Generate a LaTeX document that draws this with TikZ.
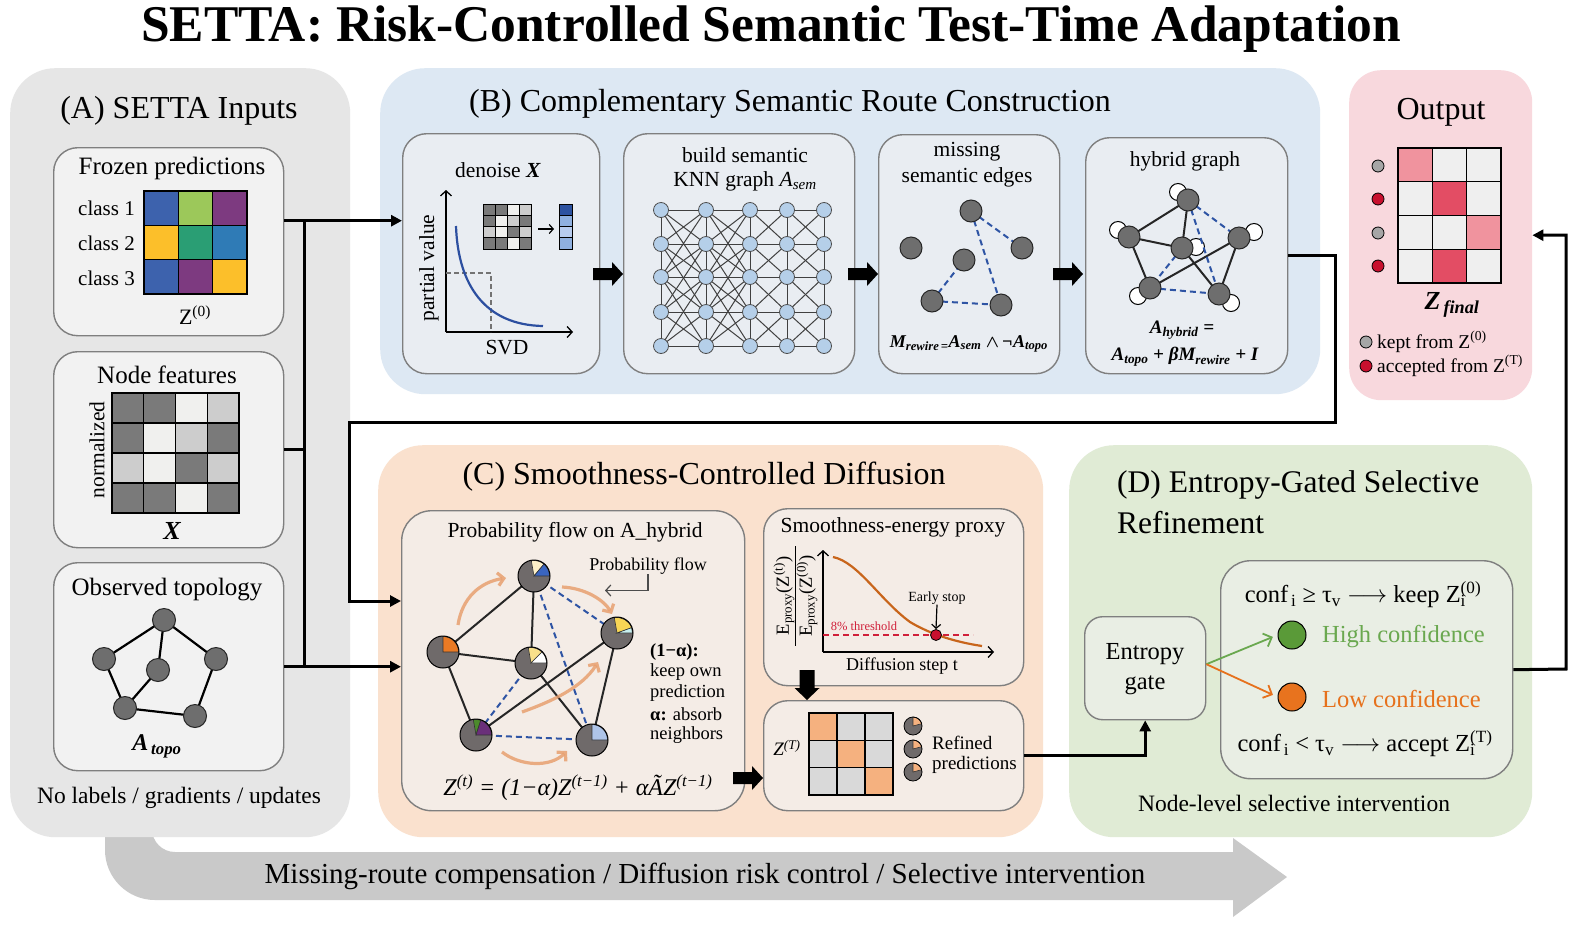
\documentclass[tikz,border=0pt]{standalone}
\usepackage{fontspec}
\setmainfont{Liberation Serif}
\usetikzlibrary{arrows.meta,calc}

\definecolor{panA}{HTML}{E6E6E6}
\definecolor{subA}{HTML}{F2F2F2}
\definecolor{panB}{HTML}{DDE8F3}
\definecolor{subB}{HTML}{E9EDF2}
\definecolor{panOut}{HTML}{F8D8DD}
\definecolor{panC}{HTML}{FAE1CE}
\definecolor{subC}{HTML}{F4ECE6}
\definecolor{panD}{HTML}{E0EBD5}
\definecolor{subD}{HTML}{E9EEE4}
\definecolor{bord}{HTML}{7F7F7F}
\definecolor{band}{HTML}{C9C9C9}
\definecolor{ngray}{HTML}{6E6E6E}
\definecolor{pgray}{HTML}{6F6A6A}
\definecolor{knnblue}{HTML}{B5CFE9}
\definecolor{dashblue}{HTML}{2E54A4}
\definecolor{curveblue}{HTML}{2C4FA0}
\definecolor{floworange}{HTML}{E8A070}
\definecolor{fzblue}{HTML}{3D62AD}
\definecolor{fzlgreen}{HTML}{9CC85A}
\definecolor{fzpurple}{HTML}{7D3A80}
\definecolor{fzamber}{HTML}{FCBF2A}
\definecolor{fzteal}{HTML}{2A9E74}
\definecolor{fzblue2}{HTML}{2F7BB6}
\definecolor{xd}{HTML}{7A7A7A}
\definecolor{xl}{HTML}{CDCDCD}
\definecolor{xw}{HTML}{F0F0EE}
\definecolor{v1}{HTML}{2D52A0}
\definecolor{v2}{HTML}{8FB0E0}
\definecolor{v3}{HTML}{B7CCEF}
\definecolor{ol}{HTML}{F0939E}
\definecolor{ow}{HTML}{EFEFEF}
\definecolor{ored}{HTML}{E34D64}
\definecolor{dotgray}{HTML}{A6A6A6}
\definecolor{dotred}{HTML}{C8102E}
\definecolor{rorange}{HTML}{F5B17F}
\definecolor{rgray}{HTML}{D9D9D9}
\definecolor{proxycurve}{HTML}{C8651B}
\definecolor{thred}{HTML}{D0203A}
\definecolor{hgreen}{HTML}{6AA84F}
\definecolor{cgreen}{HTML}{5A9A38}
\definecolor{lorange}{HTML}{E6711C}
\definecolor{corange}{HTML}{E8731E}
\definecolor{pcream}{HTML}{FDF0C8}
\definecolor{pblue}{HTML}{3A65C0}
\definecolor{porange}{HTML}{EA7A24}
\definecolor{plyellow}{HTML}{F9E08A}
\definecolor{pyellow}{HTML}{F7D555}
\definecolor{pcyan}{HTML}{C8F0F0}
\definecolor{pgreen}{HTML}{4C8A2C}
\definecolor{ppurple}{HTML}{6A2F7A}
\definecolor{plblue}{HTML}{AEC4E8}

\newcommand\fs[1]{\fontsize{#1}{#1}\selectfont}
\newcommand\larrow{\ensuremath{\longrightarrow}}
% x0,y0,w,h,ncols,colorlist,linewidth
\newcommand\cellmat[7]{%
  \foreach \cc [count=\k from 0] in {#6} {%
    \pgfmathtruncatemacro\rr{int(\k/#5)}%
    \pgfmathtruncatemacro\qq{mod(\k,#5)}%
    \filldraw[fill=\cc,draw=black,line width=#7] ({#1+\qq*#3},{#2+\rr*#4}) rectangle ++(#3,#4);
  }}
\newcommand\piewedge[5]{\fill[#4, draw=black!80, line width=0.6pt] (#1.center) -- ++(#2:#5) arc[start angle=#2, end angle=#3, radius=#5] -- cycle;}
\newcommand\blockR[2]{\fill[black] (#1,#2-6) -- (#1+19,#2-6) -- (#1+19,#2-12) -- (#1+30,#2) -- (#1+19,#2+12) -- (#1+19,#2+6) -- (#1,#2+6) -- cycle;}
\newcommand\blockD[2]{\fill[black] (#1-7.5,#2) -- (#1+7.5,#2) -- (#1+7.5,#2+18) -- (#1+12.5,#2+18) -- (#1,#2+30) -- (#1-12.5,#2+18) -- (#1-7.5,#2+18) -- cycle;}

\tikzset{
  panelbox/.style={anchor=north west, inner sep=0pt, rounded corners=45pt},
  subbox/.style={anchor=north west, inner sep=0pt, draw=bord, line width=1.4pt, rounded corners=24pt},
  conn/.style={line width=3pt, draw=black},
  connarrow/.style={conn, -{Triangle[length=11pt,width=11pt]}},
  lbl/.style={inner sep=0pt, text=black},
  gnode/.style={circle, inner sep=0pt, minimum size=22pt, fill=ngray, draw=black!85, line width=1pt},
  knnnode/.style={circle, inner sep=0pt, minimum size=15pt, fill=knnblue, draw=black!70, line width=0.8pt},
  loopnode/.style={circle, inner sep=0pt, minimum size=17pt, fill=white, draw=black, line width=1pt},
  pienode/.style={circle, inner sep=0pt, minimum size=32pt, fill=pgray},
  solidedge/.style={line width=2pt, draw=black!85},
  knnedge/.style={line width=1pt, draw=black!75},
  dashedge/.style={line width=2pt, draw=dashblue, dash pattern=on 6pt off 4pt},
  axisarrow/.style={line width=1.3pt, -{Straight Barb[length=5pt,width=11pt]}},
  flowarrow/.style={line width=3.2pt, draw=floworange, opacity=0.85, -{Straight Barb[length=6pt,width=13pt]}},
  dotnode/.style={circle, inner sep=0pt, minimum size=12pt, draw=black, line width=0.8pt},
}

\begin{document}
\begin{tikzpicture}[x=1pt,y=-1pt]
\useasboundingbox (0,0) rectangle (1577,927);
\fill[white] (0,0) rectangle (1577,927);

% ---------- bottom band arrow ----------
\fill[band] (105,780) -- (105,850) .. controls (105,877.6) and (127.4,900) .. (155,900) -- (1233,900) -- (1233,917) -- (1287,877) -- (1233,838) -- (1233,852) -- (175,852) .. controls (162.3,852) and (152,841.7) .. (152,829) -- (152,780) -- cycle;
\node[lbl, font=\fs{29}] (bandtext) at (705,876) {Missing-route compensation / Diffusion risk control / Selective intervention};

% ---------- title ----------
\node[lbl, font=\bfseries\fs{51.5}] (title) at (771,29) {SETTA: Risk-Controlled Semantic Test-Time Adaptation};

% ---------- panels ----------
\node[panelbox, fill=panA, minimum width=340pt, minimum height=769pt] (pA) at (10,68) {};
\node[panelbox, fill=panB, minimum width=940pt, minimum height=326pt] (pB) at (380,68) {};
\node[panelbox, fill=panOut, minimum width=183pt, minimum height=330pt, rounded corners=32pt] (pOut) at (1349,70) {};
\node[panelbox, fill=panC, minimum width=665pt, minimum height=392pt] (pC) at (378,445) {};
\node[panelbox, fill=panD, minimum width=463pt, minimum height=392pt] (pD) at (1069,445) {};

\node[lbl, font=\fs{32}] (tA) at (179,111) {(A) SETTA Inputs};
\node[lbl, font=\fs{32}] (tB) at (790,104) {(B) Complementary Semantic Route Construction};
\node[lbl, font=\fs{32}] (tOut) at (1441,112) {Output};
\node[lbl, font=\fs{32}] (tC) at (704,477) {(C) Smoothness-Controlled Diffusion};
\node[lbl, font=\fs{31.5}, anchor=west] (tD1) at (1117,485) {(D) Entropy-Gated Selective};
\node[lbl, font=\fs{31.5}, anchor=west] (tD2) at (1117,523) {Refinement};

% ---------- sub boxes ----------
\node[subbox, fill=subA, minimum width=230pt, minimum height=188pt] (fp) at (53,147) {};
\node[subbox, fill=subA, minimum width=230pt, minimum height=196pt] (nf) at (53,351) {};
\node[subbox, fill=subA, minimum width=230pt, minimum height=208pt] (topo) at (53,562) {};
\node[subbox, fill=subB, minimum width=197pt, minimum height=240pt] (denoise) at (402,133) {};
\node[subbox, fill=subB, minimum width=231pt, minimum height=240pt] (knn) at (623,133) {};
\node[subbox, fill=subB, minimum width=181pt, minimum height=239pt] (miss) at (878,134) {};
\node[subbox, fill=subB, minimum width=202pt, minimum height=236pt] (hyb) at (1085,137) {};
\node[subbox, fill=subC, minimum width=343pt, minimum height=300pt, rounded corners=30pt] (pflow) at (401,510) {};
\node[subbox, fill=subC, minimum width=260pt, minimum height=177pt] (proxy) at (763,508) {};
\node[subbox, fill=subC, minimum width=260pt, minimum height=110pt] (refined) at (763,700) {};
\node[subbox, fill=subD, minimum width=121pt, minimum height=103pt, rounded corners=18pt] (gate) at (1084,616) {};
\node[subbox, fill=subD, minimum width=292pt, minimum height=218pt, rounded corners=30pt] (dinner) at (1220,560) {};

% ---------- connectors ----------
\coordinate (bus) at (304,220);
\draw[connarrow] ([yshift=21pt]fp.east) -- ([yshift=21pt]fp.east -| denoise.west);
\draw[conn] ([yshift=21pt]fp.east -| bus) -- (topo.east -| bus);
\draw[conn] (nf.east) -- (nf.east -| bus);
\draw[connarrow] (topo.east) -- (topo.east -| pflow.west);
\coordinate (r1) at (1335,422);
\coordinate (l1) at (349,601);
\draw[connarrow] (hyb.east) -| (r1) -| (l1) -- (l1 -| pflow.west);
\draw[connarrow] (refined.east) -| (gate.south);
\coordinate (r2) at (1566,669);
\draw[connarrow] (dinner.east) -- (r2) |- (pOut.east);

% block arrows
\blockR{593}{274}
\blockR{848}{274}
\blockR{1053}{274}
\blockR{733}{778}
\blockD{807}{670}

% ================= Panel A =================
\node[lbl, font=\fs{25}] (fpt) at (172,168) {Frozen predictions};
\cellmat{144}{191}{34.33}{34.33}{3}{fzblue,fzlgreen,fzpurple,fzamber,fzteal,fzblue2,fzblue,fzpurple,fzamber}{1.4pt}
\node[lbl, font=\fs{21}, anchor=east] (c1) at (135,208) {class 1};
\node[lbl, font=\fs{21}, anchor=east] (c2) at (135,243) {class 2};
\node[lbl, font=\fs{21}, anchor=east] (c3) at (135,278) {class 3};
\node[lbl, font=\fs{22}] (z0) at (195,315) {Z\textsuperscript{(0)}};

\node[lbl, font=\fs{25}] (nft) at (167,375) {Node features};
\cellmat{112}{393}{31.75}{30}{4}{xd,xd,xw,xl,xd,xw,xl,xd,xl,xw,xd,xl,xd,xd,xw,xd}{1.4pt}
\node[lbl, font=\fs{21.5}, rotate=90] (normlbl) at (97,450) {normalized};
\node[lbl, font=\bfseries\itshape\fs{26}] (xlbl) at (172,531) {X};

\node[lbl, font=\fs{25}] (topot) at (167,590) {Observed topology};
\coordinate (t1) at (164,620);
\coordinate (t2) at (104,659);
\coordinate (t3) at (158,670);
\coordinate (t4) at (216,659);
\coordinate (t5) at (125,708);
\coordinate (t6) at (195,716);
\foreach \a/\b in {t1/t2,t1/t3,t1/t4,t2/t5,t3/t5,t5/t6,t4/t6} \draw[line width=2.2pt] (\a) -- (\b);
\foreach \a in {t1,t2,t3,t4,t5,t6} \node[gnode, minimum size=23pt] (\a n) at (\a) {};
\node[lbl, font=\bfseries\itshape\fs{24}] (atopo) at (157,746) {A\textsubscript{\,topo}};

\node[lbl, font=\fs{23.5}] (nolab) at (179,798) {No labels / gradients / updates};

% ================= Panel B =================
% denoise
\node[lbl, font=\fs{21.5}] (dnt) at (498,170) {denoise \textbf{\textit{X}}};
\draw[axisarrow] (446,332) -- (446,190);
\draw[axisarrow] (446,332) -- (573,332);
\draw[line width=1.3pt, draw=black!55, dash pattern=on 5pt off 3pt] (446,273) -- (491,273) -- (491,332);
\draw[line width=2.2pt, draw=curveblue] (456,226) .. controls (458,285) and (485,325) .. (543,326);
\node[lbl, font=\fs{21.5}, rotate=90] (pv) at (429,268) {partial value};
\node[lbl, font=\fs{21.5}] (svd) at (507,348) {SVD};
\cellmat{483}{204}{12}{11.25}{4}{xd,xd,xw,xl,xd,xw,xl,xd,xl,xw,xd,xl,xd,xd,xw,xd}{1pt}
\draw[line width=1.2pt, -{Straight Barb[length=4pt,width=9pt]}] (538,229) -- (554,229);
\cellmat{559}{204}{13}{11.25}{1}{v1,v2,v3,v2}{1pt}

% knn graph
\node[lbl, font=\fs{21.5}] (knt1) at (745,155) {build semantic};
\node[lbl, font=\fs{21.5}] (knt2) at (745,181) {KNN graph \textit{A\textsubscript{sem}}};
\foreach \cx [count=\i] in {661,706,750,787,824} {
  \foreach \cy [count=\j] in {210,244,277,312,346} {
    \coordinate (k\i-\j) at (\cx,\cy);
  }
}
\foreach \i in {1,...,5} {
  \foreach \j [evaluate=\j as \jn using int(\j+1)] in {1,...,4} {
    \draw[knnedge] (k\i-\j) -- (k\i-\jn);
  }
}
\foreach \i [evaluate=\i as \inx using int(\i+1)] in {1,...,4} {
  \foreach \j in {1,...,5} {
    \draw[knnedge] (k\i-\j) -- (k\inx-\j);
  }
}
\foreach \i/\md in {1/2,2/2,3/1,4/1} {
  \pgfmathtruncatemacro\inx{\i+1}
  \foreach \j in {1,...,5} {
    \foreach \d in {-2,-1,1,2} {
      \pgfmathtruncatemacro\jj{\j+\d}
      \pgfmathtruncatemacro\ok{and(and(\jj>=1,\jj<=5),abs(\d)<=\md)}
      \ifnum\ok=1 \draw[knnedge] (k\i-\j) -- (k\inx-\jj); \fi
    }
  }
}
\foreach \i in {1,...,5} {
  \foreach \j in {1,...,5} {
    \node[knnnode] (kn\i-\j) at (k\i-\j) {};
  }
}

% missing edges
\node[lbl, font=\fs{21.5}] (mt1) at (967,152) {missing};
\node[lbl, font=\fs{21.5}] (mt2) at (967,177) {semantic edges};
\coordinate (m1) at (971,211);
\coordinate (m2) at (911,248);
\coordinate (m3) at (964,260);
\coordinate (m4) at (1022,248);
\coordinate (m5) at (932,301);
\coordinate (m6) at (1001,305);
\foreach \a/\b in {m1/m4,m1/m6,m5/m3,m5/m6} \draw[dashedge] (\a) -- (\b);
\foreach \a in {m1,m2,m3,m4,m5,m6} \node[gnode] (\a n) at (\a) {};
\node[lbl, font=\bfseries\itshape\fs{18}] (mform) at (969,344) {M\textsubscript{rewire\,=}A\textsubscript{sem} {\boldmath$\wedge$}\,¬A\textsubscript{topo}};

% hybrid graph
\node[lbl, font=\fs{21.5}] (ht) at (1185,161) {hybrid graph};
\coordinate (h1) at (1188,200);
\coordinate (h2) at (1129,237);
\coordinate (h3) at (1182,248);
\coordinate (h4) at (1239,238);
\coordinate (h5) at (1150,288);
\coordinate (h6) at (1219,294);
\foreach \a/\dx/\dy in {h1/-10/-8,h2/-11/-7,h3/14/-1,h4/15/-6,h5/-12/8,h6/12/9}
  \node[loopnode] (\a loop) at ($(\a)+(\dx,\dy)$) {};
\foreach \a/\b in {h1/h2,h1/h3,h2/h3,h2/h5,h3/h6,h5/h4,h4/h6} \draw[solidedge] (\a) -- (\b);
\foreach \a/\b in {h1/h4,h1/h6,h3/h5,h5/h6} \draw[dashedge] (\a) -- (\b);
\foreach \a in {h1,h2,h3,h4,h5,h6} \node[gnode] (\a n) at (\a) {};
\node[lbl, font=\bfseries\itshape\fs{19}] (hf1) at (1182,330) {A\textsubscript{hybrid} =};
\node[lbl, font=\bfseries\itshape\fs{19}] (hf2) at (1185,357) {A\textsubscript{topo} + βM\textsubscript{rewire} + I};

% ================= Output =================
\cellmat{1398}{148}{34.33}{33.75}{3}{ol,ow,ow,ow,ored,ow,ow,ow,ol,ow,ored,ow}{1.4pt}
\node[dotnode, fill=dotgray] (od1) at (1378,166) {};
\node[dotnode, fill=dotred] (od2) at (1378,199) {};
\node[dotnode, fill=dotgray] (od3) at (1378,233) {};
\node[dotnode, fill=dotred] (od4) at (1378,266) {};
\node[lbl, font=\bfseries\itshape\fs{26}] (zfin) at (1452,305) {Z\textsubscript{\,final}};
\node[dotnode, fill=dotgray] (lg1) at (1366,342) {};
\node[dotnode, fill=dotred] (lg2) at (1366,366) {};
\node[lbl, font=\fs{19.5}, anchor=west] (lgt1) at (1377,342) {kept from Z\textsuperscript{(0)}};
\node[lbl, font=\fs{19.5}, anchor=west] (lgt2) at (1377,366) {accepted from Z\textsuperscript{(T)}};

% ================= Panel C =================
\node[lbl, font=\fs{21.5}] (pft) at (575,532) {Probability flow on A\_hybrid};
\coordinate (p1) at (534,576);
\coordinate (p2) at (443,652);
\coordinate (p3) at (531,663);
\coordinate (p4) at (617,633);
\coordinate (p5) at (476,735);
\coordinate (p6) at (592,740);
\foreach \a/\b in {p1/p2,p1/p3,p2/p3,p2/p5,p3/p6,p5/p4,p4/p6} \draw[solidedge] (\a) -- (\b);
\foreach \a/\b in {p1/p4,p1/p6,p3/p5,p5/p6} \draw[dashedge] (\a) -- (\b);
\draw[flowarrow] (458,625) .. controls (462,598) and (480,582) .. (506,578);
\draw[flowarrow] (562,587) .. controls (585,588) and (604,600) .. (612,614);
\draw[flowarrow] (522,712) .. controls (550,702) and (582,688) .. (598,662);
\draw[flowarrow] (502,752) .. controls (520,766) and (550,768) .. (567,751);
\foreach \a in {p1,p2,p3,p4,p5,p6} \node[pienode] (\a n) at (\a) {};
\piewedge{p1n}{50}{100}{pcream}{15.5pt}
\piewedge{p1n}{0}{50}{pblue}{15.5pt}
\piewedge{p2n}{0}{90}{porange}{15.5pt}
\piewedge{p3n}{45}{100}{plyellow}{15.5pt}
\piewedge{p3n}{0}{45}{white}{15.5pt}
\piewedge{p4n}{20}{100}{pyellow}{15.5pt}
\piewedge{p4n}{0}{20}{pcyan}{15.5pt}
\piewedge{p5n}{72}{100}{pgreen}{15.5pt}
\piewedge{p5n}{0}{72}{ppurple}{15.5pt}
\piewedge{p6n}{0}{90}{plblue}{15.5pt}
\foreach \a in {p1n,p2n,p3n,p4n,p5n,p6n} \draw[black, line width=1pt] (\a.center) circle[radius=16pt];
\node[lbl, font=\fs{18}] (pfl) at (648,566) {Probability flow};
\draw[line width=1.2pt, draw=black!70, -{Straight Barb[length=5pt,width=11pt]}] (pfl.south) -- ++(0,16) -- ++(-43,0);
\node[lbl, font=\bfseries\fs{18.5}, anchor=west] (s1) at (650,652) {(1−α):};
\node[lbl, font=\fs{18.5}, anchor=west] (s2) at (650,672) {keep own};
\node[lbl, font=\fs{18.5}, anchor=west] (s3) at (650,693) {prediction};
\node[lbl, font=\fs{18.5}, anchor=west] (s4) at (650,714) {\textbf{α:} absorb};
\node[lbl, font=\fs{18.5}, anchor=west] (s5) at (650,735) {neighbors};
\node[lbl, font=\itshape\fs{24}] (pform) at (578,788) {Z\textsuperscript{(t)} = (1−α)Z\textsuperscript{(t−1)} + αÃZ\textsuperscript{(t−1)}};

% proxy
\node[lbl, font=\fs{21.5}] (pxt) at (893,527) {Smoothness-energy proxy};
\draw[axisarrow] (823,652) -- (823,550);
\draw[axisarrow] (823,652) -- (994,652);
\draw[line width=1.6pt, draw=thred, dash pattern=on 6pt off 4pt] (823,635) -- (973,635);
\draw[line width=2.2pt, draw=proxycurve] (833,557) .. controls (858,562) and (880,600) .. (910,622) .. controls (930,634) and (955,642) .. (982,646);
\node[circle, inner sep=0pt, minimum size=11pt, fill=dotred, draw=black, line width=0.8pt] (esdot) at (936,635) {};
\node[lbl, font=\fs{14}] (es) at (937,598) {Early stop};
\draw[line width=1.2pt, -{Straight Barb[length=4pt,width=9pt]}] (es.south) -- (esdot.north);
\node[lbl, font=\fs{12.5}, text=thred] (thr) at (864,626) {8\% threshold};
\node[lbl, font=\fs{18.5}, rotate=90] (ynum) at (784,596) {E\textsubscript{proxy}(Z\textsuperscript{(t)})};
\node[lbl, font=\fs{18.5}, rotate=90] (yden) at (807,596) {E\textsubscript{proxy}(Z\textsuperscript{(0)})};
\draw[line width=0.9pt] (795,546) -- (795,646);
\node[lbl, font=\fs{18}] (dst) at (902,666) {Diffusion step t};

% refined
\node[lbl, font=\itshape\fs{19}] (zt) at (787,748) {Z\textsuperscript{(T)}};
\cellmat{809}{713}{28}{27.3}{3}{rorange,rgray,rgray,rgray,rorange,rgray,rgray,rgray,rorange}{1.4pt}
\foreach \yy [count=\n] in {726,749,772} {
  \node[circle, inner sep=0pt, minimum size=18pt, fill=pgray] (sp\n) at (913,\yy) {};
  \piewedge{sp\n}{15}{90}{rorange}{9pt}
  \draw[black, line width=0.8pt] (sp\n.center) circle[radius=9pt];
}
\node[lbl, font=\fs{19}, anchor=west] (rf1) at (932,743) {Refined};
\node[lbl, font=\fs{19}, anchor=west] (rf2) at (932,765) {predictions};

% ================= Panel D =================
\node[lbl, font=\fs{24.5}] (gt1) at (1145,654) {Entropy};
\node[lbl, font=\fs{24.5}] (gt2) at (1145,685) {gate};
\node[lbl, font=\fs{24.5}] (cf1) at (1363,595) {conf\textsubscript{\,i} ≥ τ\textsubscript{v} \larrow{} keep Z\rlap{\textsubscript{i}}\textsuperscript{(0)}};
\node[circle, inner sep=0pt, minimum size=28pt, fill=cgreen, draw=black, line width=1pt] (hc) at (1292,635) {};
\node[circle, inner sep=0pt, minimum size=28pt, fill=corange, draw=black, line width=1pt] (lc) at (1292,697) {};
\node[lbl, font=\fs{24.5}, text=hgreen, anchor=west] (hct) at (1322,637) {High confidence};
\node[lbl, font=\fs{24.5}, text=lorange, anchor=west] (lct) at (1322,699) {Low confidence};
\node[lbl, font=\fs{24.5}] (cf2) at (1365,744) {conf\textsubscript{\,i} < τ\textsubscript{v} \larrow{} accept Z\rlap{\textsubscript{i}}\textsuperscript{(T)}};
\draw[line width=1.8pt, draw=hgreen, -{Straight Barb[length=7pt,width=14pt]}, shorten >=5pt] ([yshift=4pt]gate.east) -- (hc.west);
\draw[line width=1.8pt, draw=lorange, -{Straight Barb[length=7pt,width=14pt]}, shorten >=5pt] ([yshift=4pt]gate.east) -- (lc.west);
\node[lbl, font=\fs{23.5}] (nls) at (1294,803) {Node-level selective intervention};

\end{tikzpicture}
\end{document}
